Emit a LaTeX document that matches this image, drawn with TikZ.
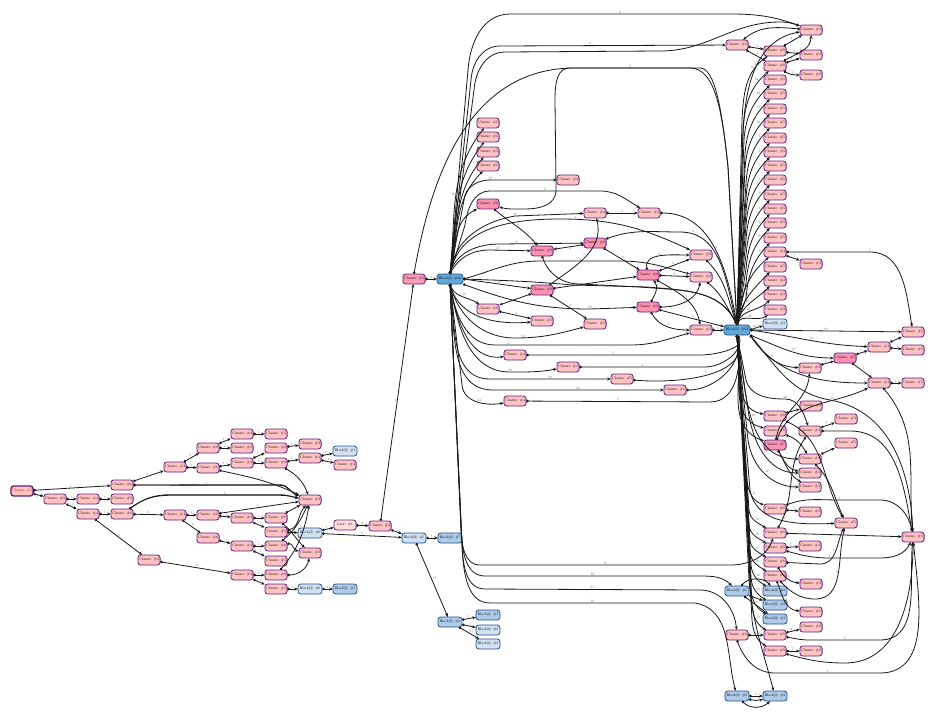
\documentclass[tikz,border=0pt]{standalone}
\usepackage{amsmath,amssymb}
\usetikzlibrary{arrows.meta}
\definecolor{clpink}{HTML}{FFC2C2}
\definecolor{clhot}{HTML}{FA92B0}
\definecolor{clpurple}{HTML}{5E1F86}
\definecolor{bkpale}{HTML}{D2E2F2}
\definecolor{bkmid}{HTML}{B0CBE8}
\definecolor{bkmain}{HTML}{62A8D8}
\definecolor{bkline}{HTML}{24528F}

\begin{document}
\begin{tikzpicture}[x=1pt,y=1pt,auto]
    \tikzset{
      closure/.style={draw=clpurple,fill=clpink,rectangle,rounded corners=2.8pt,line width=.8pt,scale=.37,
        minimum width=60pt,minimum height=27pt,inner sep=0pt},
      closurehot/.style={closure,fill=clhot},
      blockbox/.style={closure,draw=bkline,fill=bkpale,minimum width=65pt},
      blockmid/.style={blockbox,fill=bkmid},
      blockmain/.style={blockbox,fill=bkmain,minimum width=70pt},
      lab/.style={scale=.34,text=black!70,inner sep=1.5pt},
      flow/.style={{Circle[open,fill=white,length=2.6pt,width=2.6pt]}-{Stealth[length=3.6pt,width=3pt]},
        line width=.8pt,black!90,nodes={lab}}
    }
    \useasboundingbox (0,0) rectangle (934,-718);

    % left cluster
    \node[closure,line width=1.3pt,text=red!80!black] (A491) at (22,-491) {Closure: \#4};
    \node[closure] (B499) at (55,-499) {Closure: \#6};
    \node[closure] (C499) at (88,-499) {Closure: \#4};
    \node[closure] (C514) at (88,-514) {Closure: \#4};
    \node[closure] (D485) at (122,-485) {Closure: \#6};
    \node[closure] (D499) at (122,-499) {Closure: \#5};
    \node[closure] (D514) at (122,-514) {Closure: \#6};
    \node[closure] (E560) at (149,-560) {Closure: \#3};
    \node[closure] (F467) at (175,-467) {Closure: \#4};
    \node[closure] (F515) at (175,-515) {Closure: \#4};
    \node[closure] (G448) at (208,-448) {Closure: \#8};
    \node[closure] (G468) at (208,-468) {Closure: \#8};
    \node[closure] (G515) at (208,-515) {Closure: \#8};
    \node[closure] (G538) at (208,-538) {Closure: \#8};
    \node[closure] (H434) at (242,-434) {Closure: \#4};
    \node[closure] (H448) at (242,-448) {Closure: \#2};
    \node[closure] (H463) at (242,-463) {Closure: \#4};
    \node[closure] (H518) at (242,-518) {Closure: \#4};
    \node[closure] (H546) at (242,-546) {Closure: \#4};
    \node[closure] (H575) at (242,-575) {Closure: \#4};
    \node[closure] (I434) at (276,-434) {Closure: \#5};
    \node[closure] (I448) at (276,-448) {Closure: \#8};
    \node[closure] (I463) at (276,-463) {Closure: \#8};
    \node[closure] (I518) at (276,-518) {Closure: \#8};
    \node[closure] (I532) at (276,-532) {Closure: \#5};
    \node[closure] (I546) at (276,-546) {Closure: \#8};
    \node[closure] (I561) at (276,-561) {Closure: \#5};
    \node[closure] (I575) at (276,-575) {Closure: \#8};
    \node[closure] (I589) at (276,-589) {Closure: \#5};
    \node[closure] (J444) at (310,-444) {Closure: \#3};
    \node[closure] (J458) at (310,-458) {Closure: \#4};
    \node[closure] (J500) at (310,-500) {Closure: \#3};
    \node[blockbox] (J533) at (310,-533) {Block[0]: \#0};
    \node[closure] (J553) at (310,-553) {Closure: \#2};
    \node[blockbox] (J589) at (310,-589) {Block[0]: \#0};
    \node[blockbox] (K451) at (345,-451) {Block[0]: \#1};
    \node[closure] (K465) at (345,-465) {Closure: \#3};
    \node[closure,fill=clpink!55] (K525) at (345,-525) {Lazy: \#1};
    \node[blockmid] (K589) at (345,-589) {Block[0]: \#7};
    \node[closure] (L526) at (380,-526) {Closure: \#4};
    \node[blockbox] (M538) at (414,-538) {Block[0]: \#5};
    \node[blockmid] (N538) at (450,-538) {Block[0]: \#7};
    \node[blockmid] (N622) at (450,-622) {Block[0]: \#5};
    \node[blockmid] (O615) at (488,-615) {Block[0]: \#7};
    \node[blockbox] (O630) at (488,-630) {Block[0]: \#3};
    \node[blockbox] (O644) at (488,-644) {Block[0]: \#3};

    % middle part
    \node[closurehot,fill=clhot!80!clpink] (M279) at (414,-279) {Closure: \#5};
    \node[blockmain] (N279) at (450,-279) {Block[0]: \#60};
    \node[closure] (O123) at (488,-123) {Closure: \#5};
    \node[closure] (O137) at (488,-137) {Closure: \#5};
    \node[closure] (O152) at (488,-152) {Closure: \#5};
    \node[closure] (O166) at (488,-166) {Closure: \#5};
    \node[closurehot] (O204) at (488,-204) {Closure: \#8};
    \node[closure] (O309) at (488,-309) {Closure: \#8};
    \node[closure] (P355) at (515,-355) {Closure: \#4};
    \node[closure] (P401) at (515,-401) {Closure: \#4};
    \node[closurehot] (Q251) at (542,-251) {Closure: \#8};
    \node[closurehot] (Q290) at (542,-290) {Closure: \#8};
    \node[closure] (Q321) at (542,-321) {Closure: \#5};
    \node[closure] (R180) at (568,-180) {Closure: \#4};
    \node[closure] (R367) at (568,-367) {Closure: \#3};
    \node[closure] (S213) at (595,-213) {Closure: \#4};
    \node[closurehot] (S243) at (595,-243) {Closure: \#9};
    \node[closure] (S324) at (595,-324) {Closure: \#3};
    \node[closure] (T379) at (622,-379) {Closure: \#5};
    \node[closure] (U213) at (649,-213) {Closure: \#3};
    \node[closurehot] (U275) at (648,-275) {Closure: \#9};
    \node[closurehot] (U307) at (648,-307) {Closure: \#6};
    \node[closure] (V390) at (675,-390) {Closure: \#5};
    \node[closure] (W255) at (701,-255) {Closure: \#3};
    \node[closure] (W277) at (701,-277) {Closure: \#3};
    \node[closure] (W330) at (701,-330) {Closure: \#3};
    \node[blockmain] (X330) at (737,-330) {Block[0]: \#63};

    % right part
    \node[closure] (X45) at (737,-45) {Closure: \#6};
    \node[blockmid] (X591) at (737,-591) {Block[0]: \#5};
    \node[closure] (X635) at (737,-635) {Closure: \#6};
    \node[blockmid] (X696) at (737,-696) {Block[0]: \#5};
    \node[closure] (Y51) at (775,-51) {Closure: \#8};
    \node[closure] (Y66) at (775,-66) {Closure: \#8};
    \node[closure] (Y80) at (775,-80) {Closure: \#5};
    \node[closure] (Y94) at (775,-94) {Closure: \#5};
    \node[closure] (Y109) at (775,-109) {Closure: \#5};
    \node[closure] (Y123) at (775,-123) {Closure: \#5};
    \node[closure] (Y138) at (775,-138) {Closure: \#5};
    \node[closure] (Y152) at (775,-152) {Closure: \#5};
    \node[closure] (Y166) at (775,-166) {Closure: \#5};
    \node[closure] (Y180) at (775,-180) {Closure: \#5};
    \node[closure] (Y195) at (775,-195) {Closure: \#5};
    \node[closure] (Y209) at (775,-209) {Closure: \#5};
    \node[closure] (Y223) at (775,-223) {Closure: \#5};
    \node[closure] (Y238) at (775,-238) {Closure: \#5};
    \node[closure] (Y252) at (775,-252) {Closure: \#4};
    \node[closure] (Y267) at (775,-267) {Closure: \#5};
    \node[closure] (Y281) at (775,-281) {Closure: \#2};
    \node[closure] (Y295) at (775,-295) {Closure: \#2};
    \node[closure] (Y310) at (775,-310) {Closure: \#2};
    \node[blockbox] (Y324) at (775,-324) {Block[0]: \#3};
    \node[closure] (Y416) at (775,-416) {Closure: \#8};
    \node[closure] (Y431) at (775,-431) {Closure: \#8};
    \node[closurehot] (Y445) at (775,-445) {Closure: \#7};
    \node[closure] (Y509) at (775,-509) {Closure: \#8};
    \node[closure] (Y533) at (775,-533) {Closure: \#8};
    \node[closure] (Y548) at (775,-548) {Closure: \#8};
    \node[closure] (Y562) at (775,-562) {Closure: \#8};
    \node[closure] (Y576) at (775,-576) {Closure: \#8};
    \node[blockmid] (Y591) at (775,-591) {Block[0]: \#3};
    \node[blockmid] (Y605) at (775,-605) {Block[0]: \#3};
    \node[blockmid] (Y619) at (775,-619) {Block[0]: \#3};
    \node[closure] (Y635) at (775,-635) {Closure: \#8};
    \node[closure] (Y651) at (775,-651) {Closure: \#8};
    \node[blockmid] (Y696) at (775,-696) {Block[0]: \#3};
    \node[closure] (Z30) at (811,-30) {Closure: \#3};
    \node[closure] (Z55) at (811,-55) {Closure: \#2};
    \node[closure] (Z75) at (811,-75) {Closure: \#2};
    \node[closure] (Z264) at (811,-264) {Closure: \#3};
    \node[closure] (Z368) at (810,-368) {Closure: \#3};
    \node[closure] (Z406) at (811,-406) {Closure: \#3};
    \node[closure] (Z431) at (810,-431) {Closure: \#4};
    \node[closure] (Z459) at (810,-459) {Closure: \#4};
    \node[closure] (Z473) at (810,-473) {Closure: \#3};
    \node[closure] (Z487) at (810,-487) {Closure: \#3};
    \node[closure] (Z512) at (810,-512) {Closure: \#3};
    \node[closure] (Z546) at (810,-546) {Closure: \#3};
    \node[closure] (Z584) at (811,-584) {Closure: \#3};
    \node[closure] (Z612) at (811,-612) {Closure: \#3};
    \node[closure] (Z627) at (811,-627) {Closure: \#3};
    \node[closure] (Z651) at (811,-651) {Closure: \#3};
    \node[closurehot] (ZA358) at (845,-358) {Closure: \#5};
    \node[closure] (ZA419) at (846,-419) {Closure: \#3};
    \node[closure] (ZA443) at (846,-443) {Closure: \#5};
    \node[closure] (ZA523) at (846,-523) {Closure: \#5};
    \node[closure] (ZB347) at (879,-347) {Closure: \#4};
    \node[closure] (ZB383) at (879,-383) {Closure: \#4};
    \node[closure] (ZC332) at (913,-332) {Closure: \#5};
    \node[closure] (ZC350) at (913,-350) {Closure: \#5};
    \node[closure] (ZC383) at (913,-383) {Closure: \#5};
    \node[closure] (ZC537) at (913,-537) {Closure: \#5};

    % short edges
    \path[flow]
    (A491)
    edge node {1} (D485)
    edge node[swap] {2} (B499)
    (B499)
    edge node {1} (C499)
    edge node {2} (C514)
    (C499) edge node {1} (D499)
    (C514)
    edge node {1} (D514)
    edge node {1} (E560)
    (D485) edge node {2} (F467)
    (D514) edge node {2} (F515)
    (E560) edge node {2} (H575)
    (F467)
    edge node {2} (G448)
    edge node {3} (G468)
    (F515)
    edge node {3} (G515)
    edge node {2} (G538)
    (G448)
    edge node {1} (H434)
    edge node {1} (H448)
    (G468)
    edge node {1} (H463)
    edge [out=-12,in=155] node {1} (J500)
    (G515)
    edge node {1} (H518)
    edge node {1} (J500)
    (G538) edge node {1} (H546)
    (H434) edge node {1} (I434)
    (H463)
    edge node {1} (I448)
    edge node {1} (I463)
    (H518)
    edge node {1} (I518)
    edge node {1} (I532)
    (H546)
    edge node {1} (I546)
    edge node {1} (I561)
    (H575)
    edge node {1} (I575)
    edge node {1} (I589)
    (I448) edge node {1} (J444)
    (I463)
    edge node {1} (J458)
    edge [out=-30,in=110] node {} (J500)
    (J458)
    edge node {1} (K451)
    edge node {1} (K465)
    (I518)
    edge node {} (J500)
    edge [out=-40,in=135] node {} (J553)
    (I532)
    edge [out=10,in=-130] node {} (J500)
    edge node {} (J533)
    (I546)
    edge [out=40,in=-115] node {} (J500)
    edge [out=10,in=170] node {} (J553)
    (I575)
    edge [out=50,in=-100] node {} (J500)
    edge [out=0,in=-100] node {} (J553)
    (I589) edge node {1} (J589)
    (J589) edge node {3} (K589)
    (J533)
    edge node {1} (K525)
    edge node {8} (M538)
    (K525) edge node {8} (L526)
    (L526)
    edge node {1} (M538)
    edge node {4} (M279)
    (M279) edge node {4} (N279)
    (M538)
    edge node {1} (N538)
    edge node {17} (N622)
    (N622)
    edge node {1} (O615)
    edge node {1} (O630)
    edge node {17} (O644)
    ;
    \draw[flow] (D485) -- node {1} (280,-484.7) to[out=0,in=160] (J500);
    \draw[flow] (D485) -- (280,-485.3) to[out=0,in=160] (J500);
    \draw[flow] (D514) to[out=35,in=180] (170,-494.7) -- node {1} (280,-494.7) to[out=0,in=170] (J500);
    \draw[flow] (D514) to[out=35,in=180] (170,-495.3) -- (280,-495.3) to[out=0,in=170] (J500);

    % first block, upwards
    \path[flow]
    (N279.north)
    edge [out=84,in=232] node {10} (O123)
    edge [out=82,in=232] node {7} (O137)
    edge [out=80,in=230] node {7} (O152)
    edge [out=78,in=225] node {5} (O166)
    edge [out=75,in=205] node {13} (O204)
    (N279.east)
    edge node {19} (Q290)
    ;
    \draw[flow] (N279.north) -- (468,-70) to[out=86,in=180] (510,-14) -- node {9} (730,-14) to[out=0,in=160] (Z30);
    \draw[flow] (N279.north) -- (471,-80) to[out=86,in=180] (500,-46) -- node[pos=.4] {6} (X45);
    \draw[flow] (N279.north) -- (474,-90) to[out=86,in=180] (505,-52) -- (660,-51) to[out=0,in=180] (780,-22) to[out=0,in=160] node {} (Z30);
    \draw[flow] (N279.north) -- (464,-200) to[out=85,in=180] (490,-180) -- node[pos=0] {19} (R180);
    \draw[flow] (N279.north) -- (465,-225) to[out=82,in=180] (490,-191) -- node {6} (600,-191) to[out=0,in=150] (U213);
    \draw[flow] (N279.north) to[out=82,in=190] (515,-216) -- node[pos=0] {14} (S213);
    \draw[flow] (N279.north) to[out=78,in=180] (560,-219) to[out=0,in=155] node[pos=.1] {4} (W255);
    \draw[flow] (N279.north) to[out=72,in=180] (500,-244) -- node[pos=.2] {8} (S243);
    \draw[flow] (N279.north) to[out=62,in=180] (490,-250) -- node[pos=.2] {15} (Q251);
    \draw[flow] (N279.east) to[out=15,in=180] (540,-261) -- node {3} (620,-261) to[out=0,in=165] (W277);
    \draw[flow] (N279.east) to[out=-2,in=175] (573,-285) -- (647,-287) to[out=-5,in=115] node {} (X330.north);
    \draw[flow] (M279.north) to[out=80,in=182] (570,-68) -- node {5} (690,-68) .. controls (715,-68) and (722,-110) .. (728,-167) -- (X330.north);
    \draw[flow] (X330.north) -- (728,-167) .. controls (722,-110) and (715,-68) .. (700,-68) -- (570,-68) .. controls (558,-68) and (555,-80) .. (555,-100) -- (556,-190) .. controls (556,-205) and (540,-209) .. (525,-209) to[out=180,in=-15] (O204);

    % first block, downwards
    \path[flow]
    (N279.south)
    edge [out=-70,in=150] node {10} (O309)
    edge [out=-75,in=185] node[swap] {17} (Q321)
    edge [out=-80,in=188] node {13} (P355)
    ;
    \draw[flow] (N279.south east) to[out=-20,in=180] (590,-309) -- node[pos=0] {29} (U307);
    \draw[flow] (N279.south) to[out=-75,in=180] (515,-338) to[out=0,in=195] node[pos=.1] {19} (S324);
    \draw[flow] (N279.south) to[out=-80,in=180] (495,-345) -- node[pos=.1] {4} (630,-345) to[out=0,in=195] (W330);
    \draw[flow] (N279.south) to[out=-80,in=180] (510,-372) to[out=0,in=190] node[pos=0] {29} (R367);
    \draw[flow] (N279.south) to[out=-82,in=180] (490,-379) -- node {23} (T379);
    \draw[flow] (N279.south) to[out=-83,in=180] (493,-390) -- node {26} (V390);
    \draw[flow] (N279.south) -- (462,-385) to[out=-85,in=190] node {13} (P401);
    \draw[flow] (N279.south) -- (461,-530) to[out=-87,in=180] (480,-565) -- node {13} (730,-565) to[out=0,in=-110] (Y533);
    \draw[flow] (N279.south) -- (461.5,-535) to[out=-87,in=180] (485,-576) -- node {22} (700,-576) to[out=0,in=135] (X591);
    \draw[flow] (N279.south) -- (462,-545) to[out=-87,in=180] (485,-589) -- node {17} (700,-590) to[out=0,in=95] (X635);
    \draw[flow] (N279.south) -- (462.5,-555) to[out=-85,in=180] (490,-603) -- node {16} (695,-603) to[out=-10,in=105] (X696);

    % into the second block
    \path[flow]
    (O204) edge [out=-40,in=130] node {4} (Q251)
    (Q290)
    edge node {3} (O309)
    edge node {4} (S324)
    edge [out=35,in=-75] node {5} (S213)
    edge node {} (U275)
    (O309) edge node {3} (Q321)
    (S213) edge node {3} (U213)
    (S243)
    edge node {4} (Q251)
    edge node {6} (U275)
    (U275)
    edge [out=100,in=180] node {3} (W255)
    edge node {5} (W255)
    edge node {2} (W277)
    edge [out=-30,in=100] node {3} (W330)
    (U307)
    edge [out=60,in=-45] node {} (U275)
    edge [out=0,in=-100] node {3} (W277)
    edge [out=-60,in=180] node {4} (W330)
    edge node {1} (X330)
    (W255) edge [out=-45,in=110] (X330.north)
    (W277) edge [out=-40,in=120] (X330.north)
    (W330) edge node {1} (X330)
    ;
    \draw[flow] (Q251.south) to[out=-70,in=180] (580,-284) -- node {3} (640,-287) to[out=-5,in=115] (X330.north);
    \draw[flow] (U213) to[out=0,in=100] node {3} (X330.north);
    \draw[flow] (S243) to[out=20,in=180] (680,-232) to[out=0,in=105] node[pos=.1] {3} (X330.north);
    \draw[flow] (P355) -- node {5} (700,-355) to[out=0,in=-50] (X330.south);
    \draw[flow] (R367) -- node {4} (705,-367) to[out=0,in=-65] (X330.south);
    \draw[flow] (T379) to[out=-5,in=-70] node {3} (X330.south);
    \draw[flow] (V390) to[out=0,in=-75] node {1} (X330.south);
    \draw[flow] (P401) -- node {5} (710,-402) to[out=0,in=-80] (X330.south);

    % second block, upwards
    \path[flow]
    (X330.north)
    edge [out=68,in=215] node {41} (Y310)
    edge [out=75,in=225] node {42} (Y295)
    edge [out=78,in=225] node {42} (Y281)
    edge [out=80,in=225] node {12} (Y267)
    edge [out=82,in=220] node {8} (Y252)
    (X330.east)
    edge [out=20,in=190] node {16} (Y324)
    edge node {12} (ZC332)
    edge [out=-8,in=178] node {12} (ZB347)
    (X330.south east)
    edge [out=-22,in=180] node {12} (ZA358)
    edge [out=-55,in=178] node {9} (Z368)
    edge [out=-55,in=180] node {31} (ZB383)
    ;
    \draw[flow] (X330.north) -- (743,-135) to[out=88,in=190] node {16} (Z30);
    \draw[flow] (X330.north) -- (742,-120) to[out=87,in=215] node[pos=.8] {4} (Y51);
    \draw[flow] (X330.north) -- (743,-130) to[out=86,in=220] node[pos=.8] {24} (Y66);
    \draw[flow] (X330.north) -- (744,-140) to[out=86,in=225] node[pos=.8] {23} (Y80);
    \draw[flow] (X330.north) -- (745,-154) to[out=86,in=225] node[pos=.8] {17} (Y94);
    \draw[flow] (X330.north) -- (745,-169) to[out=86,in=225] node[pos=.8] {16} (Y109);
    \draw[flow] (X330.north) -- (746,-183) to[out=86,in=225] node[pos=.8] {5} (Y123);
    \draw[flow] (X330.north) -- (746,-198) to[out=86,in=225] node[pos=.8] {8} (Y138);
    \draw[flow] (X330.north) -- (746,-212) to[out=86,in=225] node[pos=.8] {7} (Y152);
    \draw[flow] (X330.north) -- (746,-226) to[out=86,in=225] node[pos=.8] {9} (Y166);
    \draw[flow] (X330.north) -- (746,-240) to[out=86,in=225] node[pos=.8] {9} (Y180);
    \draw[flow] (X330.north) -- (746,-255) to[out=85,in=225] node[pos=.8] {6} (Y195);
    \draw[flow] (X330.north) -- (746,-269) to[out=85,in=225] node[pos=.8] {8} (Y209);
    \draw[flow] (X330.north) -- (746,-283) to[out=85,in=225] node[pos=.8] {8} (Y223);
    \draw[flow] (X330.north) -- (746,-298) to[out=85,in=225] node[pos=.8] {9} (Y238);

    % second block, downwards
    \path[flow]
    (X330.south)
    edge [out=-78,in=170] node {13} (Y416)
    edge [out=-80,in=165] node {17} (Y431)
    edge [out=-80,in=160] node {12} (Y445)
    edge [out=-80,in=180] node {28} (Z459)
    ;
    \draw[flow] (X330.south) -- (748,-410) to[out=-82,in=180] node {12} (Z473);
    \draw[flow] (X330.south) -- (748,-440) to[out=-82,in=180] node {14} (Z487);
    \draw[flow] (X330.south) -- (747,-480) to[out=-85,in=160] node {11} (Y509);
    \draw[flow] (X330.south) -- (750,-490) to[out=-80,in=182] node {16} (ZA523);
    \draw[flow] (X330.south) -- (749,-510) to[out=-85,in=150] node {10} (Y533);
    \draw[flow] (X330.south) -- (749,-525) to[out=-85,in=150] node {10} (Y548);
    \draw[flow] (X330.south) -- (750,-540) to[out=-85,in=150] node {10} (Y562);
    \draw[flow] (X330.south) -- (750,-552) to[out=-85,in=150] node {10} (Y576);
    \draw[flow] (X330.south) -- (751,-565) to[out=-85,in=150] node {10} (Y591);
    \draw[flow] (X330.south) -- (751,-578) to[out=-85,in=150] node {10} (Y605);
    \draw[flow] (X330.south) -- (751,-590) to[out=-85,in=150] node {9} (Y619);
    \draw[flow] (X330.south) -- (752,-605) to[out=-85,in=150] node {12} (Y635);
    \draw[flow] (X330.south) -- (752,-620) to[out=-85,in=150] node {12} (Y651);
    \draw[flow] (X330.south) -- (749,-580) to[out=-85,in=105] (Y696);
    \draw[flow] (X330.south) -- (746,-380) to[out=-75,in=180] (785,-399) to[out=0,in=110] node[pos=0] {20} (Z431);
    \draw[flow] (X330.south east) to[out=-50,in=170] (830,-400) to[out=-10,in=92] node[pos=0] {14} (ZC537);

    % right columns
    \path[flow]
    (Z30) edge [out=175,in=40] node[swap] {5} (X45)
    (X45)
    edge node {4} (Y51)
    edge node {3} (Y66)
    (Y51)
    edge node {3} (Z30)
    edge node {1} (Z55)
    (Y66)
    edge [out=30,in=-90] node {3} (Z30)
    edge node {3} (Z55)
    edge [out=-30,in=180] node {3} (Z75)
    (Y252)
    edge node {7} (Z264)
    (Z368) edge node {1} (ZA358)
    (ZA358)
    edge node {1} (ZB347)
    edge node {1} (ZB383)
    (ZB347)
    edge node {1} (ZC332)
    edge node {1} (ZC350)
    (ZB383) edge node {1} (ZC383)
    (Y416) edge node {2} (Z406)
    (Y431) edge [out=-20,in=120] node {} (Z459)
    (Y445)
    edge [out=80,in=-95] node {} (Z368)
    edge [out=-60,in=170] node {} (Z473)
    edge [out=-60,in=150] node {} (Z487)
    (Z431) edge node {7} (ZA419)
    (Z459)
    edge node {7} (ZA443)
    edge [out=-45,in=115] node {} (ZA523)
    (Y509) edge node {7} (Z512)
    (Y533)
    edge node {5} (ZC537)
    edge [out=60,in=-125] node {} (Z431)
    (Y548) edge node {7} (Z546)
    (Y562)
    edge [out=-60,in=175] node {1} (Z584)
    (Y576)
    edge [out=-70,in=175] node {1} (Z612)
    (X635) edge node {1} (Y635)
    (Y635) edge node {2} (Z627)
    (Y651) edge node {7} (Z651)
    (X591)
    edge [out=50,in=130] node {} (Y591)
    edge node {} (Y605)
    edge node {} (Y619)
    (X696)
    edge node {1} (Y696)
    edge [out=-15,in=195] node {} (Y696)
    edge [out=-45,in=-135] node[swap] {2} (Y696)
    ;
    \draw[flow] (Y252) -- (870,-252) to[out=0,in=100] node[pos=0] {1} (ZC332);
    \draw[flow] (Y445) to[out=70,in=205] (ZB383);
    \draw[flow] (Z431) -- (850,-431) to[out=0,in=100] node {1} (ZC537);
    \draw[flow] (ZB383) to[out=-50,in=95] node {1} (ZC537);
    \draw[flow] (Y416) to[out=-25,in=120] (ZA523);
    \draw[flow] (Y509) to[out=20,in=180] (840,-500) -- node[pos=0] {1} (880,-500) to[out=0,in=100] (ZC537);
    \draw[flow] (Y548) to[out=-15,in=180] (830,-558) -- node[pos=0] {1} (880,-558) to[out=0,in=-115] (ZC537);
    \draw[flow] (Y562) -- (820,-564) to[out=0,in=-115] node {5} (ZA523);
    \draw[flow] (Y576) to[out=-45,in=180] (815,-599) to[out=0,in=-105] node {5} (ZA523);
    \draw[flow] (Y635) to[out=-10,in=180] (810,-640) -- node {5} (880,-640) to[out=0,in=-95] (ZC537);
    \draw[flow] (Y651) to[out=-15,in=180] (845,-663) to[out=0,in=-90] node {5} (ZC537);
    \draw[flow] (X635.south) to[out=-70,in=180] (775,-673) -- node {1} (880,-673) to[out=0,in=-85] (ZC537);
\end{tikzpicture}
\end{document}
